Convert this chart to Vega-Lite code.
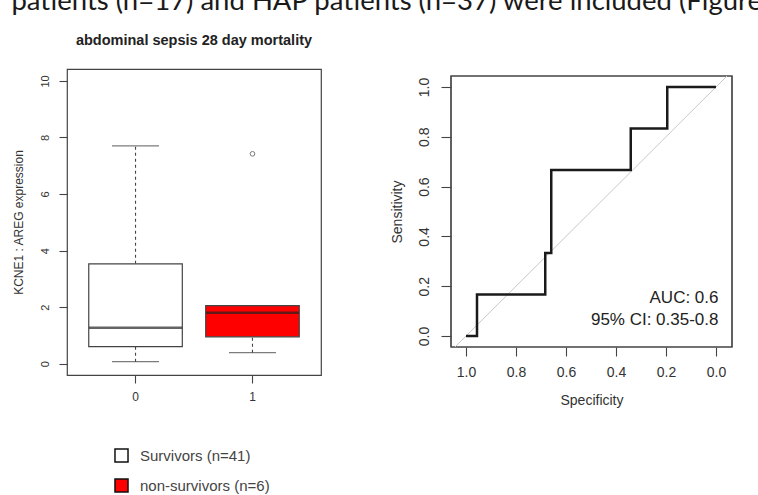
{
  "$schema": "https://vega.github.io/schema/vega-lite/v6.json",
  "padding": {"left": 11, "top": -13, "right": 0, "bottom": 0},
  "title": {"text": "patients (n=17) and HAP patients (n=37) were included (Figure", "anchor": "start", "font": "Lato", "fontSize": 27.5, "fontWeight": "normal", "color": "#1a1a1a", "offset": 16.5},
  "bounds": "flush",
  "spacing": 130,
  "config": {
    "view": {"stroke": "#444", "strokeWidth": 1.2},
    "font": "Liberation Sans",
    "axis": {"grid": false, "domain": false, "tickColor": "#444", "tickWidth": 1.1, "labelColor": "#333", "titleColor": "#333", "titleFontWeight": "normal", "labelFont": "Liberation Sans", "titleFont": "Liberation Sans"},
    "legend": {"padding": 0}
  },
  "datasets": {
    "boxes": [
      {"group": "0", "label": "Survivors (n=41)", "lower": 0.07, "q1": 0.6, "median": 1.27, "q3": 3.53, "upper": 7.7},
      {"group": "1", "label": "non-survivors (n=6)", "lower": 0.39, "q1": 0.95, "median": 1.8, "q3": 2.05, "upper": 2.05}
    ],
    "outliers": [{"group": "1", "value": 7.42}],
    "roc": [
      {"ord": 1, "spec": 1.0, "sens": 0.0},
      {"ord": 2, "spec": 0.956, "sens": 0.0},
      {"ord": 3, "spec": 0.956, "sens": 0.167},
      {"ord": 4, "spec": 0.683, "sens": 0.167},
      {"ord": 5, "spec": 0.683, "sens": 0.333},
      {"ord": 6, "spec": 0.659, "sens": 0.333},
      {"ord": 7, "spec": 0.659, "sens": 0.667},
      {"ord": 8, "spec": 0.341, "sens": 0.667},
      {"ord": 9, "spec": 0.341, "sens": 0.833},
      {"ord": 10, "spec": 0.195, "sens": 0.833},
      {"ord": 11, "spec": 0.195, "sens": 1.0},
      {"ord": 12, "spec": 0.0, "sens": 1.0}
    ],
    "diag": [
      {"spec": 1.044, "sens": -0.044},
      {"spec": -0.044, "sens": 1.044}
    ],
    "notes": [
      {"spec": -0.01, "sens": 0.153, "label": "AUC: 0.6"},
      {"spec": -0.01, "sens": 0.064, "label": "95% CI: 0.35-0.8"}
    ]
  },
  "hconcat": [
    {
      "width": 254,
      "height": 306,
      "title": {"text": "abdominal sepsis 28 day mortality", "fontSize": 14.5, "fontWeight": "bold", "color": "#222", "offset": 21, "anchor": "middle", "font": "Liberation Sans"},
      "data": {"name": "boxes"},
      "encoding": {
        "x": {"field": "group", "type": "nominal", "title": null,
          "scale": {"domain": ["0", "1"], "paddingInner": 0.2, "paddingOuter": 0.186},
          "axis": {"labelAngle": 0, "tickSize": 8, "labelPadding": 8, "labelFontSize": 12}}
      },
      "layer": [
        {
          "mark": {"type": "rule", "strokeDash": [3, 3], "color": "#444", "strokeWidth": 1.1},
          "encoding": {
            "y": {"field": "q3", "type": "quantitative", "title": "KCNE1 : AREG expression",
              "scale": {"domain": [-0.4, 10.42], "nice": false, "zero": false},
              "axis": {"values": [0, 2, 4, 6, 8, 10], "labelAngle": 270, "labelAlign": "center", "labelBaseline": "bottom", "tickSize": 8, "labelPadding": 9, "labelFontSize": 11, "titleFontSize": 12, "titlePadding": 14}},
            "y2": {"field": "upper"}
          }
        },
        {
          "mark": {"type": "rule", "strokeDash": [3, 3], "color": "#444", "strokeWidth": 1.1},
          "encoding": {
            "y": {"field": "lower", "type": "quantitative", "title": "KCNE1 : AREG expression"},
            "y2": {"field": "q1"}
          }
        },
        {
          "mark": {"type": "tick", "size": 47, "thickness": 1.2, "color": "#444"},
          "encoding": {"y": {"field": "upper", "type": "quantitative", "title": "KCNE1 : AREG expression"}}
        },
        {
          "mark": {"type": "tick", "size": 47, "thickness": 1.2, "color": "#444"},
          "encoding": {"y": {"field": "lower", "type": "quantitative", "title": "KCNE1 : AREG expression"}}
        },
        {
          "mark": {"type": "bar", "stroke": "#444", "strokeWidth": 1.2, "opacity": 1},
          "encoding": {
            "y": {"field": "q1", "type": "quantitative", "title": "KCNE1 : AREG expression"},
            "y2": {"field": "q3"},
            "fill": {"field": "label", "type": "nominal",
              "scale": {"domain": ["Survivors (n=41)", "non-survivors (n=6)"], "range": ["#ffffff", "#ff0000"]},
              "legend": {"orient": "none", "legendX": 47, "legendY": 379, "title": null, "symbolType": "square", "symbolSize": 170, "symbolStrokeColor": "#111", "symbolStrokeWidth": 1.5, "symbolOpacity": 1, "labelFontSize": 15, "labelColor": "#444", "rowPadding": 9, "labelOffset": 11}}
          }
        },
        {
          "mark": {"type": "tick", "size": 93, "thickness": 2.6, "color": "#222"},
          "encoding": {"y": {"field": "median", "type": "quantitative", "title": "KCNE1 : AREG expression"}}
        },
        {
          "data": {"name": "outliers"},
          "mark": {"type": "point", "shape": "circle", "size": 22, "color": "#444", "strokeWidth": 1, "filled": false},
          "encoding": {"y": {"field": "value", "type": "quantitative", "title": "KCNE1 : AREG expression"}}
        }
      ]
    },
    {
      "width": 281,
      "height": 278,
      "view": {"stroke": null},
      "encoding": {
        "x": {"field": "spec", "type": "quantitative", "title": "Specificity",
          "scale": {"domain": [-0.064, 1.06], "reverse": true, "nice": false, "zero": false},
          "axis": {"values": [0, 0.2, 0.4, 0.6, 0.8, 1.0], "format": ".1f", "tickSize": 9, "labelPadding": 9, "labelFontSize": 14, "titleFontSize": 14, "titlePadding": 14}},
        "y": {"field": "sens", "type": "quantitative", "title": "Sensitivity",
          "scale": {"domain": [-0.044, 1.044], "range": [278, 7], "nice": false, "zero": false},
          "axis": {"values": [0, 0.2, 0.4, 0.6, 0.8, 1.0], "format": ".1f", "labelAngle": 270, "labelAlign": "center", "labelBaseline": "bottom", "tickSize": 10, "labelPadding": 10, "labelFontSize": 14, "titleFontSize": 14, "titlePadding": 13}}
      },
      "layer": [
        {
          "data": {"name": "diag"},
          "mark": {"type": "rect", "fill": null, "stroke": "#444", "strokeWidth": 1.2},
          "encoding": {
            "x": {"datum": 1.06, "type": "quantitative"},
            "x2": {"datum": -0.064},
            "y": {"datum": -0.044, "type": "quantitative"},
            "y2": {"datum": 1.044}
          }
        },
        {
          "data": {"name": "diag"},
          "mark": {"type": "line", "color": "#c8c8c8", "strokeWidth": 1}
        },
        {
          "data": {"name": "roc"},
          "mark": {"type": "line", "color": "#1a1a1a", "strokeWidth": 2.5},
          "encoding": {"order": {"field": "ord", "type": "quantitative"}}
        },
        {
          "data": {"name": "notes"},
          "mark": {"type": "text", "align": "right", "baseline": "middle", "fontSize": 17, "color": "#222", "font": "Liberation Sans"},
          "encoding": {"text": {"field": "label", "type": "nominal"}}
        }
      ]
    }
  ]
}
